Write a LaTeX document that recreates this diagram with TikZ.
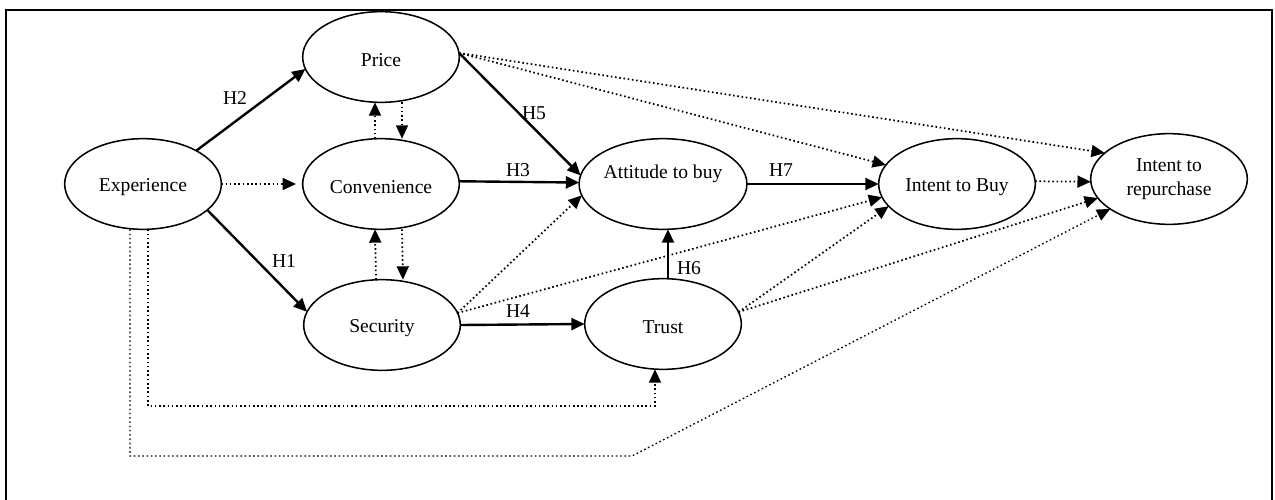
\documentclass[tikz,border=0pt]{standalone}
\usepackage{fontspec}
\setmainfont{Liberation Serif}
\usetikzlibrary{arrows.meta,shapes.geometric,calc}
\newcommand\mvtext[2]{\raisebox{#1}[\height][\depth]{#2}}
\begin{document}
\begin{tikzpicture}[x=0.75pt,y=-0.75pt,
  var/.style={ellipse,draw,line width=1.15pt,minimum width=117.5pt,minimum height=68pt,inner sep=0pt,outer sep=0pt,font=\fontsize{14.7}{17.5}\selectfont,align=center},
  hyp/.style={line width=1.8pt,-{Triangle[length=10pt,width=9pt]}},
  indir/.style={line width=1.3pt,dash pattern=on 1.2pt off 2pt,-{Triangle[length=10pt,width=9pt]}},
  hlab/.style={font=\fontsize{14.7}{17.5}\selectfont,inner sep=0pt}
]
\useasboundingbox (0,0) rectangle (1275,500);
\draw[line width=1.6pt] (6,500) -- (6,10) -- (1272,10) -- (1272,500);

\node[var] (exp) at (143,184) {\mvtext{-2.2pt}{Experience}};
\node[var] (price) at (381,57) {\mvtext{-2.2pt}{Price}};
\node[var] (conv) at (381,184) {\mvtext{-2.2pt}{Convenience}};
\node[var] (sec) at (382,325) {\mvtext{-2.2pt}{Security}};
\node[var] (att) at (663,184) {\mvtext{8pt}{Attitude to buy}};
\node[var] (trust) at (663,324) {\mvtext{-2.2pt}{Trust}};
\node[var] (itb) at (957,184) {\mvtext{-2.2pt}{Intent to Buy}};
\node[var] (rep) at (1169,179) {Intent to\\repurchase};

\draw[hyp] (exp.32) -- (price.189);
\draw[indir,shorten >=5pt] (exp.east) -- (conv.west);
\draw[hyp] (exp.-22) -- (sec.170);
\draw[indir] ($(conv.north)+(-6,0)$) -- ($(price.south)+(-6,0)$);
\draw[indir] ($(price.south)+(21,0)$) -- ($(conv.north)+(21,0)$);
\draw[indir] ($(sec.north)+(-6,0)$) -- ($(conv.south)+(-6,0)$);
\draw[indir] ($(conv.south)+(21,0)$) -- ($(sec.north)+(21,0)$);
\draw[hyp] (price.3) -- (att.174);
\draw[hyp] (conv.2) -- (att.179);
\draw[indir] (sec.9) -- (att.188);
\draw[indir] (sec.9) -- (itb.190);
\draw[hyp] (sec.east) -- (trust.west);
\draw[hyp] ($(trust.north)+(5,0)$) -- ($(att.south)+(5,0)$);
\draw[indir] (trust.9) -- (itb.198);
\draw[indir] (trust.9) -- (rep.195);
\draw[hyp] (att.east) -- (itb.west);
\draw[indir] (itb.2) -- (rep.182);
\draw[indir] (price.3) -- (itb.165);
\draw[indir] (price.3) -- (rep.158);
\coordinate (c1) at (655,406);
\draw[indir] ($(exp.south)+(5,0)$) |- (c1) -- ($(trust.south)+(-8,0)$);
\coordinate (c2) at (632,456);
\draw[indir,line width=1pt] ($(exp.south)+(-13,0)$) |- (c2) -- (rep.207);

\node[hlab] (h2) at (235,98) {H2};
\node[hlab] (h1) at (284,261) {H1};
\node[hlab] (h5) at (534,113) {H5};
\node[hlab] (h3) at (518,170) {H3};
\node[hlab] (h4) at (518,311) {H4};
\node[hlab] (h6) at (689,268) {H6};
\node[hlab] (h7) at (781,170) {H7};
\end{tikzpicture}
\end{document}
